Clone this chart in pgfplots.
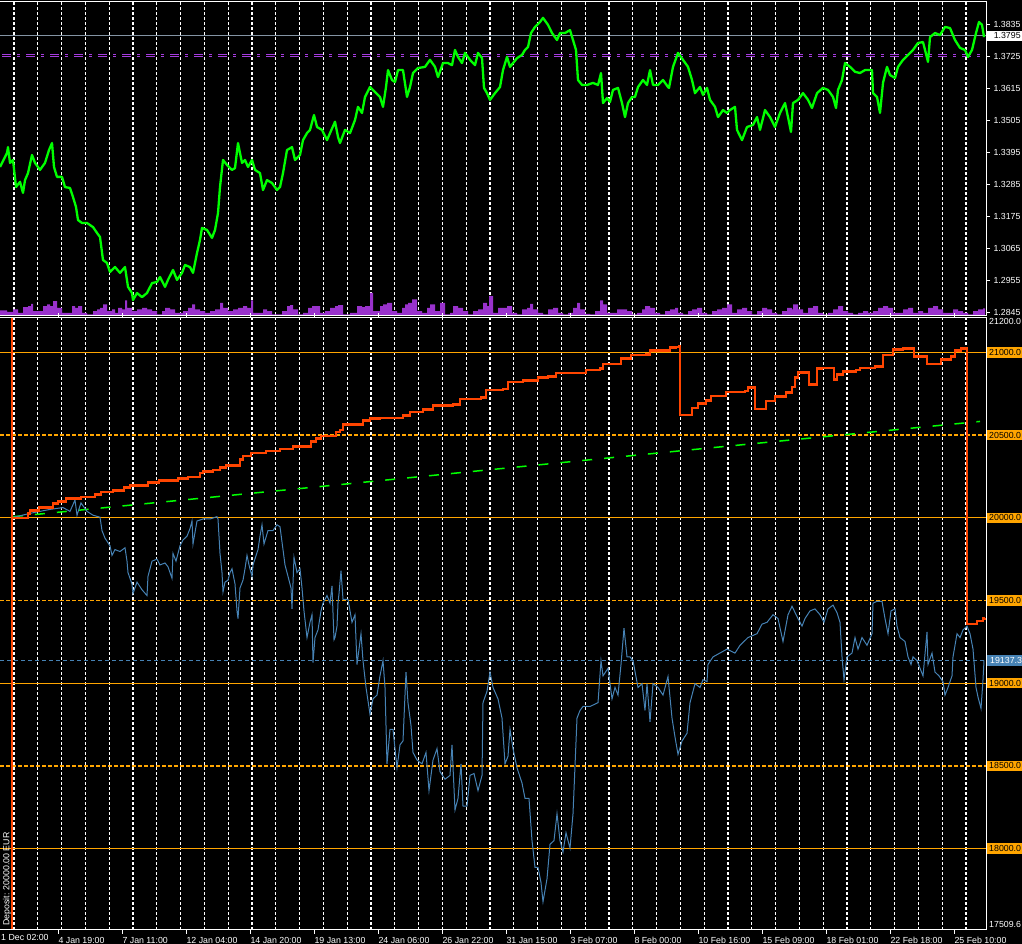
\documentclass[border=0pt]{standalone}
\usepackage{pgfplots}
\pgfplotsset{compat=1.18}
\usepackage{fontspec}
\setmainfont{Liberation Sans}

\definecolor{pricegreen}{HTML}{00FF00}
\definecolor{volpurple}{HTML}{9932CC}
\definecolor{levpurple}{HTML}{A63CE0}
\definecolor{bidgray}{HTML}{8494A4}
\definecolor{lvlorange}{HTML}{FFA500}
\definecolor{balred}{HTML}{FF4500}
\definecolor{eqblue}{HTML}{4682B4}

\tikzset{
  lvlsolid/.style={lvlorange, line width=1.1pt},
  lvldash/.style={lvlorange, line width=1.4pt, dash pattern=on 4pt off 2pt},
}

\pgfplotsset{
  mtbase/.style={
    scale only axis, width=986pt, xmin=0, xmax=986, anchor=south west,
    axis line style={draw=none}, clip mode=individual,
    scaled y ticks=false,
    tick label style={font=\fontsize{8.8}{10}\selectfont, text=white},
    /pgf/number format/assume math mode=true,
    minor tick length=0pt,
  },
  % dotted vertical grid, every fifth line heavier
  mtgrid/.style={
    xtick={14,133,...,966},
    minor xtick={14,37.8,...,966},
    xticklabels={},
    xtick style={draw=none},
    xmajorgrids, xminorgrids,
    major x grid style={white, line width=2.2pt, dash pattern=on 3pt off 2pt},
    minor x grid style={white, line width=1pt, dash pattern=on 3pt off 2pt},
  },
  frame/.style={
    after end axis/.code={
      \draw[white, line width=1pt] (rel axis cs:0,1) -- (rel axis cs:1,1) -- (rel axis cs:1,0) -- (rel axis cs:0,0);
    },
  },
}

\begin{document}
\begin{tikzpicture}[font=\fontsize{8.8}{10}\selectfont]
\useasboundingbox (0pt,0pt) rectangle (1022pt,944pt);
\clip (0pt,0pt) rectangle (1022pt,944pt);
\fill[black] (0pt,0pt) rectangle (1022pt,944pt);

% ---------- upper panel: volumes ----------
\begin{axis}[mtbase, mtgrid, at={(0pt,628.5pt)}, height=314pt,
  ymin=0, ymax=3140, ytick=\empty]
\addplot[fill=volpurple, draw=none, const plot] coordinates {
(0,50)(2,50)(7,37)(13,60)(18,27)(23,83)(28,93)(31,117)(33,43)(38,43)(43,93)(47,110)(50,93)(53,143)(57,77)(62,27)(67,27)(72,93)(75,77)(78,93)(82,27)(87,10)(93,43)(97,60)(100,77)(103,110)(107,43)(112,60)(115,27)(118,77)(122,60)(125,150)(127,77)(132,43)(137,60)(142,77)(147,60)(152,43)(157,10)(162,43)(165,77)(170,60)(175,27)(180,27)(183,43)(188,77)(192,110)(195,60)(200,43)(205,27)(210,43)(215,60)(220,127)(223,77)(228,43)(233,60)(238,77)(243,93)(247,77)(251,150)(253,27)(258,27)(263,60)(267,43)(272,10)(277,10)(282,43)(287,93)(290,103)(293,60)(298,10)(303,27)(308,77)(312,93)(315,93)(320,27)(325,43)(330,77)(335,93)(338,103)(343,10)(350,27)(357,93)(362,83)(365,93)(370,227)(373,43)(380,93)(383,110)(387,127)(392,43)(397,27)(402,77)(405,110)(408,127)(412,160)(417,43)(422,27)(427,77)(430,110)(435,43)(440,127)(445,10)(450,27)(453,93)(458,77)(463,43)(468,10)(473,43)(478,60)(483,127)(487,93)(489,193)(493,27)(498,77)(502,77)(507,93)(512,27)(517,10)(522,60)(527,77)(530,117)(533,60)(538,27)(543,10)(548,60)(553,77)(558,27)(563,10)(568,27)(573,77)(577,127)(580,60)(585,17)(590,10)(595,43)(600,150)(603,110)(607,27)(612,27)(617,60)(622,60)(627,43)(632,10)(637,27)(642,60)(645,93)(650,77)(655,27)(660,10)(665,43)(670,60)(675,77)(678,27)(683,10)(688,43)(692,60)(697,77)(702,27)(707,10)(712,43)(717,60)(722,77)(727,110)(732,27)(737,60)(742,77)(747,43)(752,10)(757,43)(762,77)(767,60)(772,27)(777,10)(782,43)(787,77)(792,60)(793,110)(798,60)(803,27)(808,77)(813,93)(818,27)(823,10)(828,27)(833,60)(838,93)(843,43)(848,27)(853,10)(858,27)(863,43)(868,27)(873,43)(878,77)(883,93)(888,77)(893,27)(898,27)(903,60)(908,77)(913,27)(918,43)(923,27)(928,77)(933,93)(938,60)(943,27)(948,27)(953,60)(958,43)(963,27)(968,10)(973,43)(978,60)(983,70)(985,70)
} \closedcycle;
\end{axis}

% ---------- upper panel: price ----------
\begin{axis}[mtbase, frame, at={(0pt,628.5pt)}, height=314pt,
  ymin=1.28360, ymax=1.39121, xtick=\empty,
  ytick={1.2845,1.2955,1.3065,1.3175,1.3285,1.3395,1.3505,1.3615,1.3725,1.3835},
  yticklabel pos=right, ytick style={draw=white, line width=0.8pt},
  major tick length=4pt, tick align=outside,
  yticklabel style={anchor=west, xshift=0pt,
    /pgf/number format/fixed, /pgf/number format/fixed zerofill, /pgf/number format/precision=4},
]
\draw[bidgray, line width=1pt] (axis cs:0,1.3795) -- (axis cs:986,1.3795);
\draw[levpurple, line width=1pt, dash pattern=on 9pt off 6pt on 3pt off 6pt] (axis cs:2,1.3731) -- (axis cs:986,1.3731);
\draw[levpurple, line width=1pt, dash pattern=on 9pt off 6pt on 3pt off 6pt] (axis cs:2,1.3724) -- (axis cs:986,1.3724);
\addplot[pricegreen, line width=2.3pt, line join=round] coordinates {
(0,1.3345)(7,1.3393)(8,1.3413)(10,1.3359)(13,1.3369)(16,1.3276)(20,1.3294)(23,1.3256)(25,1.3300)(28,1.3324)(32,1.3386)(35,1.3359)(40,1.3335)(45,1.3359)(49,1.3403)(52,1.3427)(54,1.3345)(57,1.3311)(62,1.3311)(65,1.3276)(70,1.3273)(73,1.3242)(76,1.3208)(78,1.3163)(82,1.3153)(87,1.3153)(93,1.3139)(97,1.3119)(100,1.3105)(103,1.3026)(107,1.3016)(110,1.2985)(115,1.3002)(120,1.2982)(125,1.3002)(128,1.2934)(132,1.2913)(133,1.2889)(137,1.2913)(142,1.2899)(147,1.2913)(152,1.2947)(157,1.2951)(160,1.2968)(165,1.2934)(168,1.2958)(173,1.2992)(177,1.2958)(182,1.2982)(185,1.3009)(190,1.3002)(193,1.2982)(197,1.3050)(200,1.3095)(202,1.3136)(207,1.3129)(212,1.3102)(215,1.3129)(218,1.3187)(220,1.3276)(223,1.3369)(227,1.3352)(232,1.3335)(235,1.3341)(238,1.3427)(242,1.3359)(245,1.3369)(248,1.3345)(252,1.3369)(255,1.3335)(260,1.3324)(263,1.3266)(267,1.3300)(272,1.3290)(277,1.3266)(280,1.3276)(283,1.3324)(287,1.3403)(292,1.3413)(295,1.3369)(300,1.3386)(303,1.3437)(307,1.3461)(310,1.3472)(314,1.3523)(317,1.3482)(322,1.3472)(327,1.3437)(330,1.3461)(335,1.3500)(338,1.3448)(340,1.3427)(345,1.3472)(350,1.3461)(355,1.3506)(358,1.3551)(362,1.3530)(365,1.3585)(370,1.3619)(375,1.3602)(380,1.3585)(383,1.3551)(386,1.3619)(388,1.3677)(392,1.3643)(395,1.3636)(398,1.3677)(403,1.3677)(407,1.3585)(410,1.3619)(413,1.3667)(418,1.3684)(425,1.3688)(430,1.3712)(435,1.3688)(438,1.3653)(443,1.3701)(448,1.3701)(452,1.3694)(455,1.3746)(458,1.3722)(462,1.3701)(465,1.3736)(470,1.3712)(475,1.3694)(478,1.3736)(482,1.3718)(484,1.3616)(487,1.3598)(490,1.3575)(495,1.3598)(500,1.3619)(503,1.3677)(507,1.3722)(510,1.3688)(513,1.3701)(517,1.3718)(522,1.3729)(525,1.3746)(528,1.3756)(531,1.3804)(535,1.3825)(540,1.3842)(543,1.3856)(548,1.3832)(552,1.3804)(557,1.3780)(560,1.3804)(565,1.3804)(570,1.3814)(573,1.3780)(576,1.3746)(578,1.3643)(582,1.3626)(587,1.3626)(593,1.3633)(598,1.3626)(601,1.3667)(603,1.3564)(607,1.3581)(610,1.3568)(613,1.3609)(618,1.3616)(622,1.3564)(625,1.3516)(628,1.3564)(632,1.3585)(635,1.3585)(638,1.3619)(643,1.3643)(647,1.3626)(650,1.3677)(653,1.3626)(658,1.3626)(663,1.3643)(668,1.3619)(669,1.3616)(673,1.3688)(678,1.3736)(683,1.3712)(688,1.3688)(692,1.3643)(695,1.3598)(700,1.3619)(703,1.3592)(707,1.3616)(710,1.3575)(715,1.3551)(718,1.3516)(723,1.3540)(727,1.3530)(730,1.3540)(735,1.3551)(737,1.3472)(742,1.3437)(747,1.3482)(753,1.3489)(757,1.3516)(760,1.3472)(765,1.3540)(770,1.3516)(775,1.3482)(780,1.3530)(785,1.3564)(788,1.3516)(791,1.3465)(793,1.3564)(798,1.3575)(803,1.3598)(808,1.3575)(812,1.3547)(817,1.3598)(823,1.3616)(828,1.3609)(833,1.3585)(836,1.3547)(838,1.3609)(842,1.3643)(845,1.3701)(850,1.3688)(855,1.3671)(860,1.3667)(865,1.3677)(872,1.3677)(873,1.3598)(877,1.3585)(880,1.3530)(883,1.3633)(887,1.3688)(890,1.3660)(895,1.3650)(898,1.3688)(903,1.3712)(908,1.3729)(913,1.3746)(918,1.3770)(923,1.3773)(928,1.3705)(930,1.3790)(935,1.3804)(940,1.3797)(945,1.3825)(950,1.3821)(955,1.3780)(960,1.3753)(965,1.3746)(968,1.3722)(972,1.3746)(976,1.3804)(979,1.3842)(982,1.3832)(984,1.3790)
};
\node[anchor=west, fill=white, text=black, inner xsep=3pt, inner ysep=2pt, minimum width=40pt, align=left, font=\fontsize{8.8}{10}\selectfont] at (axis cs:987,1.3795) {1.3795};
\end{axis}

% ---------- lower panel: balance / equity ----------
\begin{axis}[mtbase, mtgrid, frame, at={(0pt,14pt)}, height=612.5pt,
  ymin=17507.1, ymax=21211.7,
  ytick={18000,18500,19000,19500,20000,20500,21000},
  yticklabel pos=right, ytick style={draw=none},
  yticklabel style={anchor=west, xshift=0pt, fill=lvlorange, text=black, inner xsep=3pt, inner ysep=2pt,
    /pgf/number format/fixed, /pgf/number format/fixed zerofill, /pgf/number format/precision=1,
    /pgf/number format/1000 sep={}},
  extra x ticks={58,122,186,250,314,378,442,506,570,634,698,762,826,890,954},
  extra x tick labels={4 Jan 19:00,7 Jan 11:00,12 Jan 04:00,14 Jan 20:00,19 Jan 13:00,24 Jan 06:00,26 Jan 22:00,31 Jan 15:00,3 Feb 07:00,8 Feb 00:00,10 Feb 16:00,15 Feb 09:00,18 Feb 01:00,22 Feb 18:00,25 Feb 10:00},
  extra x tick style={grid=none, xtick style={draw=white, line width=0.8pt}, major tick length=4pt, tick align=outside,
    xticklabel style={anchor=north west, xshift=-3pt, yshift=0pt}},
]
\draw[lvlsolid] (axis cs:0,21000) -- (axis cs:986,21000);
\draw[lvlsolid] (axis cs:0,20000) -- (axis cs:986,20000);
\draw[lvlsolid] (axis cs:0,19000) -- (axis cs:986,19000);
\draw[lvlsolid] (axis cs:0,18000) -- (axis cs:986,18000);
\draw[lvldash] (axis cs:0,20500) -- (axis cs:986,20500);
\draw[lvldash] (axis cs:0,19500) -- (axis cs:986,19500);
\draw[lvldash] (axis cs:0,18500) -- (axis cs:986,18500);
\draw[eqblue, line width=1.2pt, dash pattern=on 4pt off 3pt] (axis cs:0,19137) -- (axis cs:986,19137);
% growth line
\addplot[pricegreen, line width=1.5pt, dash pattern=on 10pt off 12pt] coordinates {
(13,20007)(340,20201)(668,20398)(980,20583)
};
% equity
\addplot[eqblue, line width=1pt] coordinates {
(12,20000)(13,20002)(30,20027)(50,20051)(63,20062)(70,20039)(75,20108)(77,20016)(81,20090)(87,20039)(93,20016)(100,20004)(102,19923)(105,19877)(110,19831)(112,19773)(115,19808)(120,19796)(125,19819)(127,19738)(128,19669)(132,19600)(133,19542)(137,19611)(142,19565)(147,19530)(148,19646)(152,19738)(157,19750)(160,19715)(165,19727)(168,19704)(172,19634)(173,19785)(176,19738)(180,19831)(183,19866)(187,19889)(190,19935)(192,19981)(193,19842)(197,19981)(203,19993)(210,19993)(217,20007)(218,19993)(220,19785)(222,19669)(223,19553)(225,19611)(228,19623)(230,19669)(232,19692)(235,19600)(237,19437)(238,19391)(240,19576)(243,19623)(245,19692)(247,19773)(249,19715)(252,19646)(253,19715)(258,19808)(260,19889)(262,19958)(264,19842)(268,19923)(273,19923)(277,19958)(280,19946)(283,19808)(285,19715)(288,19646)(291,19576)(292,19449)(294,19761)(297,19669)(300,19692)(302,19576)(304,19437)(307,19276)(310,19368)(312,19414)(313,19125)(315,19276)(318,19322)(321,19437)(323,19484)(327,19530)(330,19484)(332,19588)(334,19263)(335,19276)(337,19345)(338,19484)(339,19542)(341,19680)(343,19507)(348,19507)(352,19368)(355,19414)(357,19113)(361,19299)(363,19136)(366,18974)(370,18812)(373,18905)(377,18928)(380,19044)(383,19136)(385,18974)(387,18512)(390,18720)(393,18720)(397,18488)(400,18627)(403,18651)(406,19067)(408,18882)(411,18743)(413,18581)(417,18535)(422,18512)(426,18581)(429,18350)(433,18535)(437,18604)(440,18465)(445,18419)(450,18442)(452,18627)(455,18233)(458,18303)(461,18512)(463,18257)(467,18257)(470,18442)(474,18454)(478,18350)(482,18442)(483,18882)(487,18951)(490,19067)(493,18974)(498,18905)(502,18789)(505,18512)(508,18558)(510,18720)(513,18604)(517,18488)(522,18396)(525,18303)(529,18303)(532,18048)(535,17886)(538,17886)(541,17794)(543,17678)(547,17817)(550,18025)(554,18048)(557,18210)(560,18048)(563,17979)(566,18095)(570,18002)(573,18210)(577,18789)(580,18835)(583,18859)(590,18859)(598,18882)(601,19136)(603,19044)(608,19090)(612,18905)(615,18974)(618,18928)(621,19113)(624,19333)(627,19159)(630,19159)(633,19136)(638,18974)(642,18997)(645,18835)(647,18997)(650,18766)(653,18997)(658,18974)(663,18928)(668,19040)(672,18789)(675,18674)(678,18569)(682,18650)(687,18697)(690,18882)(695,18997)(700,18974)(703,19021)(707,19009)(708,19113)(713,19159)(727,19206)(735,19182)(740,19229)(748,19276)(757,19299)(762,19357)(767,19368)(773,19414)(778,19391)(783,19252)(788,19414)(792,19465)(797,19403)(802,19345)(805,19391)(810,19437)(815,19449)(820,19414)(824,19368)(828,19449)(833,19472)(837,19426)(840,19368)(842,19159)(844,19021)(847,19159)(852,19182)(855,19276)(858,19206)(862,19276)(867,19229)(872,19299)(873,19484)(877,19495)(882,19495)(885,19391)(888,19299)(891,19437)(895,19449)(897,19345)(900,19276)(905,19252)(908,19159)(911,19113)(913,19159)(917,19136)(920,19090)(923,19044)(927,19310)(928,19113)(932,19182)(935,19067)(939,19044)(943,19009)(945,18928)(948,18974)(952,19044)(953,19159)(957,19299)(960,19276)(963,19322)(967,19345)(970,19299)(973,19206)(976,18974)(978,18916)(981,18847)(983,19021)(984,19136)
};
% balance
\addplot[balred, line width=2.6pt] coordinates {(12,17400)(12,21300)};
\addplot[balred, line width=2.6pt, const plot] coordinates {
(12,20000)(28,20027)(30,20044)(39,20062)(53,20085)(58,20097)(66,20118)(81,20127)(95,20141)(101,20157)(113,20164)(124,20185)(130,20197)(148,20213)(159,20225)(178,20238)(188,20248)(200,20271)(203,20280)(213,20289)(220,20306)(226,20317)(240,20352)(243,20375)(251,20393)(266,20405)(280,20416)(293,20430)(311,20461)(316,20479)(321,20495)(336,20519)(340,20530)(343,20565)(363,20590)(370,20600)(380,20604)(403,20620)(410,20641)(423,20655)(433,20678)(453,20687)(460,20718)(481,20729)(486,20773)(503,20780)(508,20822)(523,20831)(538,20849)(548,20854)(556,20877)(586,20895)(600,20903)(603,20930)(621,20965)(631,20984)(646,20989)(650,21011)(670,21030)(676,21034)(679,21039)(680,20623)(692,20664)(698,20692)(706,20710)(711,20738)(726,20761)(745,20768)(748,20787)(755,20659)(766,20706)(775,20734)(786,20757)(792,20791)(795,20849)(798,20880)(809,20808)(817,20903)(822,20907)(834,20838)(837,20866)(843,20884)(856,20895)(860,20905)(875,20914)(883,20984)(893,21018)(903,21023)(914,20975)(927,20930)(941,20958)(951,20976)(955,21011)(961,21025)(967,19357)(977,19375)(983,19391)(985,19395)
};
\node[anchor=west, fill=eqblue, text=white, inner xsep=3pt, inner ysep=2pt] at (axis cs:987,19137) {19137.3};
\node[anchor=north west, text=white, inner xsep=3pt, inner ysep=1pt] at (rel axis cs:1,1) {21200.0};
\node[anchor=south west, text=white, inner xsep=3pt, inner ysep=2pt] at (rel axis cs:1,0) {17509.6};
\node[anchor=north west, text=white, inner sep=0pt, yshift=-4pt, xshift=1pt] at (rel axis cs:0,0) {1 Dec 02:00};
\end{axis}

\node[rotate=90, anchor=west, text=white, inner sep=0pt] at (7pt,18pt) {Deposit: 20000.00 EUR};
\end{tikzpicture}
\end{document}
